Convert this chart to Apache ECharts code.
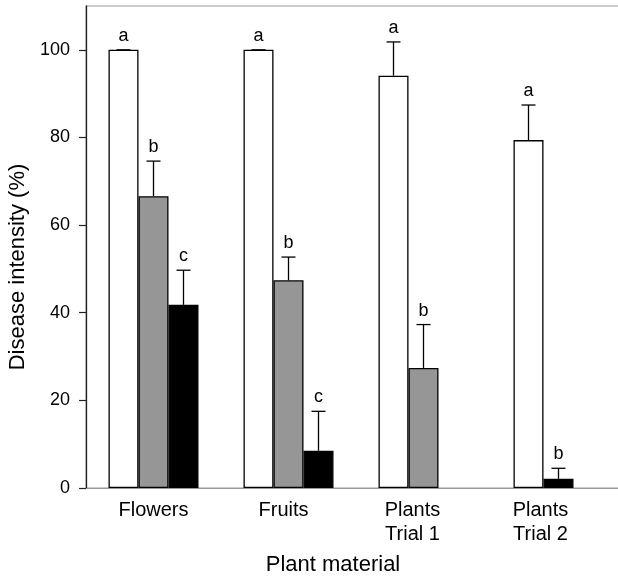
<!DOCTYPE html>
<html>
<head>
<meta charset="utf-8">
<script src="https://cdn.jsdelivr.net/npm/echarts@6/dist/echarts.min.js"></script>
<style>html,body{margin:0;padding:0;background:#fff;}#c{width:618px;height:578px;}</style>
</head>
<body>
<div id="c"></div>
<script>
// ---- data ----
const categories = ['Flowers', 'Fruits', 'Plants\nTrial 1', 'Plants\nTrial 2'];
const yTicks = [0, 20, 40, 60, 80, 100];
const untreated = [100, 100, 94.1, 79.4];
const untreatedErr = [0, 0, 7.7, 8.0];
const untreatedLetters = ['a', 'a', 'a', 'a'];
const grayVals = [66.6, 47.4, 27.4, null];
const grayErr = [8.0, 5.3, 9.9, null];
const grayLetters = ['b', 'b', 'b', null];
const blackVals = [41.8, 8.5, null, 2.1];
const blackErr = [7.9, 9.0, null, 2.4];
const blackLetters = ['c', 'c', null, 'b'];
const xTitle = 'Plant material';
const yTitle = 'Disease intensity (%)';

// ---- build ----
const FONT = '"Liberation Sans", Arial, Helvetica, sans-serif';
const GAP = 1 / 3;
const labelShift = [0, 10, 22, 36]; // right padding to nudge labels left

const slot1Data = categories.map((c, i) => grayVals[i] != null ? grayVals[i]
  : (blackVals[i] != null ? { value: blackVals[i], itemStyle: { color: '#000' } } : null));
const slot2Data = categories.map((c, i) => grayVals[i] != null ? blackVals[i] : null);

const errPoints = [];
categories.forEach((c, i) => {
  errPoints.push([i, untreated[i], untreatedErr[i], 0, untreatedLetters[i]]);
  if (grayVals[i] != null) {
    errPoints.push([i, grayVals[i], grayErr[i], 1, grayLetters[i]]);
    if (blackVals[i] != null) errPoints.push([i, blackVals[i], blackErr[i], 2, blackLetters[i]]);
  } else if (blackVals[i] != null) {
    errPoints.push([i, blackVals[i], blackErr[i], 1, blackLetters[i]]);
  }
});

const rich = {};
categories.forEach((c, i) => {
  rich['c' + i] = { fontFamily: FONT, fontSize: 20, color: '#000', lineHeight: 24, align: 'center', padding: [0, labelShift[i], 0, 0] };
});

const chart = echarts.init(document.getElementById('c'), null, { renderer: 'canvas' });
const barBase = { type: 'bar', barGap: 0, barCategoryGap: (GAP * 100) + '%', z: 2 };

chart.setOption({
  animation: false,
  backgroundColor: '#fff',
  grid: { left: 86, right: -8, top: 6, bottom: 90, show: true, borderColor: '#999', borderWidth: 1, outerBoundsMode: 'none', containLabel: false },
  xAxis: {
    type: 'category',
    data: categories,
    axisLine: { lineStyle: { color: '#999', width: 1 } },
    axisTick: { show: false },
    axisLabel: {
      margin: 10,
      interval: 0,
      formatter: (v, i) => v.split('\n').map(s => '{c' + i + '|' + s + '}').join('\n'),
      rich: rich
    },
    name: xTitle,
    nameLocation: 'middle',
    nameGap: 66,
    nameTextStyle: { fontFamily: FONT, fontSize: 22, color: '#000', padding: [0, 46, 0, 0], verticalAlign: 'top' }
  },
  yAxis: {
    type: 'value',
    min: 0, max: 110,
    splitLine: { show: false },
    axisLine: { show: true, lineStyle: { color: '#222', width: 1.3 } },
    axisTick: { show: true, length: 7, customValues: yTicks, lineStyle: { color: '#222', width: 1.2 } },
    axisLabel: { customValues: yTicks, margin: 16, fontFamily: FONT, fontSize: 18, color: '#000' },
    name: yTitle,
    nameLocation: 'middle',
    nameGap: 54,
    nameTextStyle: { fontFamily: FONT, fontSize: 22, color: '#000', padding: [0, 40, 0, 0] }
  },
  series: [
    Object.assign({}, barBase, { name: 'white', data: untreated, itemStyle: { color: '#fff', borderColor: '#000', borderWidth: 1.3 } }),
    Object.assign({}, barBase, { name: 'gray', data: slot1Data, itemStyle: { color: '#969696', borderColor: '#000', borderWidth: 1.3 } }),
    Object.assign({}, barBase, { name: 'black', data: slot2Data, itemStyle: { color: '#000', borderColor: '#000', borderWidth: 1.3 } }),
    {
      type: 'custom',
      data: errPoints.map(p => [p[0], p[1], p[2], p[3]]),
      encode: { x: 0, y: 1 },
      z: 5,
      clip: false,
      renderItem: function (params, api) {
        const i = api.value(0), v = api.value(1), e = api.value(2), s = api.value(3);
        const letter = errPoints[params.dataIndex][4];
        const base = api.coord([i, v]);
        const top = api.coord([i, v + e]);
        const band = api.size([1, 0])[0];
        const bw = band * (1 - GAP) / 3;
        const x = base[0] + (s - 1) * bw;
        const children = [
          { type: 'line', shape: { x1: x, y1: base[1], x2: x, y2: top[1] }, style: { stroke: '#000', lineWidth: 1.3 } },
          { type: 'line', shape: { x1: x - 7, y1: top[1], x2: x + 7, y2: top[1] }, style: { stroke: '#000', lineWidth: 1.3 } }
        ];
        if (letter) {
          children.push({ type: 'text', style: { text: letter, x: x, y: top[1] - 5, align: 'center', verticalAlign: 'bottom', font: '18px ' + FONT, fill: '#000' } });
        }
        return { type: 'group', children: children };
      }
    }
  ]
});
</script>
</body>
</html>
